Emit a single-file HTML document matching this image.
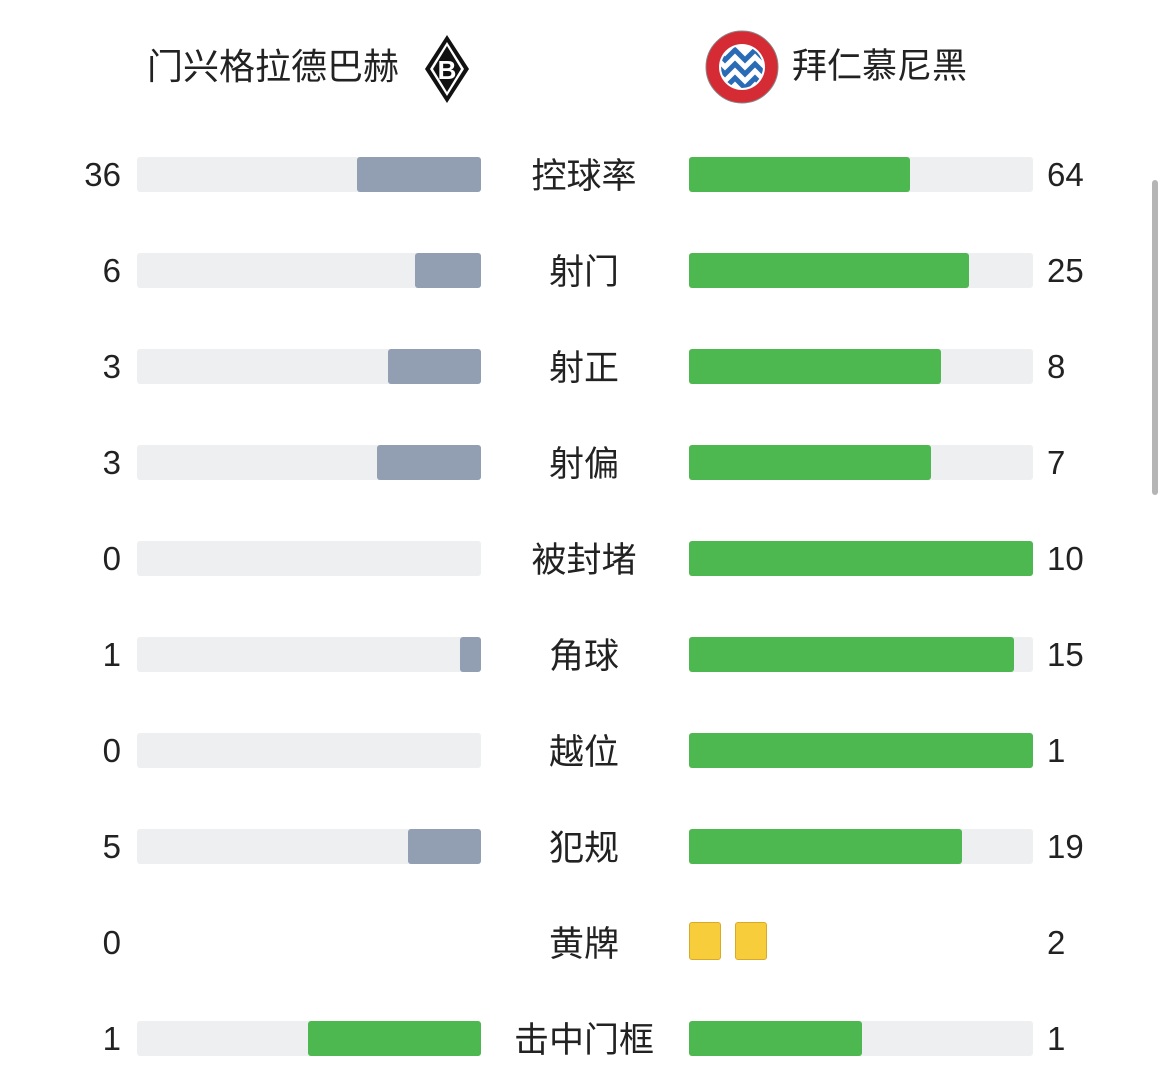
<!DOCTYPE html>
<html><head><meta charset="utf-8"><style>
body{margin:0;width:1170px;height:1083px;background:#fff;position:relative;overflow:hidden;font-family:"Liberation Sans","Noto Sans CJK SC",sans-serif;color:#222}
.a{position:absolute}
.bg{position:absolute;height:35px;background:#eeeff1;border-radius:3px}
.f{position:absolute;height:35px;border-radius:3px}
.g{background:#4cb84f}.s{background:#929eb1}
.n{position:absolute;font-size:33px;line-height:40px}
.l{position:absolute;font-size:35px;line-height:42px;width:240px;left:464px;text-align:center}
</style></head><body>
<div class="a" style="left:147px;top:44px;font-size:36px;line-height:46px">门兴格拉德巴赫</div>
<svg class="a" style="left:422px;top:33px" width="50" height="72" viewBox="0 0 50 72">
<polygon points="25,2 47,36 25,70 3,36" fill="#111"/>
<polygon points="25,9 42,36 25,63 8,36" fill="#fff"/>
<polygon points="25,13 39,36 25,59 11,36" fill="#111"/>
<text x="25" y="46" font-size="26" text-anchor="middle" fill="#fff" font-family="Liberation Sans" font-weight="bold">B</text>
</svg>
<svg class="a" style="left:705px;top:30px" width="74" height="74" viewBox="0 0 74 74">
<defs><clipPath id="c"><circle cx="37" cy="37" r="21"/></clipPath></defs>
<circle cx="37" cy="37" r="36" fill="#d52b35" stroke="#888" stroke-width="1"/>
<circle cx="37" cy="37" r="23" fill="#fff"/>
<g clip-path="url(#c)"><rect x="0" y="0" width="74" height="74" fill="#fff"/>
<path d="M10 20l10 10l10-10l10 10l10-10l10 10M10 34l10 10l10-10l10 10l10-10l10 10M10 48l10 10l10-10l10 10l10-10l10 10" stroke="#2a6bb5" stroke-width="5" fill="none"/></g>
</svg>
<div class="a" style="left:792px;top:44px;font-size:35px;line-height:46px">拜仁慕尼黑</div>
<div class="a" style="left:1152px;top:180px;width:6px;height:315px;background:#b5b5b5;border-radius:3px"></div>

<div class="n" style="right:1049px;top:155px">36</div><div class="bg" style="left:137px;top:157px;width:344px"></div><div class="f s" style="left:357px;top:157px;width:124px"></div>
<div class="l" style="top:156px">控球率</div>
<div class="bg" style="left:689px;top:157px;width:344px"></div><div class="f g" style="left:689px;top:157px;width:221px"></div><div class="n" style="left:1047px;top:155px">64</div>

<div class="n" style="right:1049px;top:251px">6</div><div class="bg" style="left:137px;top:253px;width:344px"></div><div class="f s" style="left:415px;top:253px;width:66px"></div>
<div class="l" style="top:252px">射门</div>
<div class="bg" style="left:689px;top:253px;width:344px"></div><div class="f g" style="left:689px;top:253px;width:280px"></div><div class="n" style="left:1047px;top:251px">25</div>

<div class="n" style="right:1049px;top:347px">3</div><div class="bg" style="left:137px;top:349px;width:344px"></div><div class="f s" style="left:388px;top:349px;width:93px"></div>
<div class="l" style="top:348px">射正</div>
<div class="bg" style="left:689px;top:349px;width:344px"></div><div class="f g" style="left:689px;top:349px;width:252px"></div><div class="n" style="left:1047px;top:347px">8</div>

<div class="n" style="right:1049px;top:443px">3</div><div class="bg" style="left:137px;top:445px;width:344px"></div><div class="f s" style="left:377px;top:445px;width:104px"></div>
<div class="l" style="top:444px">射偏</div>
<div class="bg" style="left:689px;top:445px;width:344px"></div><div class="f g" style="left:689px;top:445px;width:242px"></div><div class="n" style="left:1047px;top:443px">7</div>

<div class="n" style="right:1049px;top:539px">0</div><div class="bg" style="left:137px;top:541px;width:344px"></div>
<div class="l" style="top:540px">被封堵</div>
<div class="bg" style="left:689px;top:541px;width:344px"></div><div class="f g" style="left:689px;top:541px;width:344px"></div><div class="n" style="left:1047px;top:539px">10</div>

<div class="n" style="right:1049px;top:635px">1</div><div class="bg" style="left:137px;top:637px;width:344px"></div><div class="f s" style="left:460px;top:637px;width:21px"></div>
<div class="l" style="top:636px">角球</div>
<div class="bg" style="left:689px;top:637px;width:344px"></div><div class="f g" style="left:689px;top:637px;width:325px"></div><div class="n" style="left:1047px;top:635px">15</div>

<div class="n" style="right:1049px;top:731px">0</div><div class="bg" style="left:137px;top:733px;width:344px"></div>
<div class="l" style="top:732px">越位</div>
<div class="bg" style="left:689px;top:733px;width:344px"></div><div class="f g" style="left:689px;top:733px;width:344px"></div><div class="n" style="left:1047px;top:731px">1</div>

<div class="n" style="right:1049px;top:827px">5</div><div class="bg" style="left:137px;top:829px;width:344px"></div><div class="f s" style="left:408px;top:829px;width:73px"></div>
<div class="l" style="top:828px">犯规</div>
<div class="bg" style="left:689px;top:829px;width:344px"></div><div class="f g" style="left:689px;top:829px;width:273px"></div><div class="n" style="left:1047px;top:827px">19</div>

<div class="n" style="right:1049px;top:923px">0</div>
<div class="l" style="top:924px">黄牌</div>
<div class="a" style="left:689px;top:922px;width:30px;height:36px;background:#f8cd3c;border:1px solid #d9a928;border-radius:3px"></div>
<div class="a" style="left:735px;top:922px;width:30px;height:36px;background:#f8cd3c;border:1px solid #d9a928;border-radius:3px"></div>
<div class="n" style="left:1047px;top:923px">2</div>

<div class="n" style="right:1049px;top:1019px">1</div><div class="bg" style="left:137px;top:1021px;width:344px"></div><div class="f g" style="left:308px;top:1021px;width:173px"></div>
<div class="l" style="top:1020px">击中门框</div>
<div class="bg" style="left:689px;top:1021px;width:344px"></div><div class="f g" style="left:689px;top:1021px;width:173px"></div><div class="n" style="left:1047px;top:1019px">1</div>
</body></html>
